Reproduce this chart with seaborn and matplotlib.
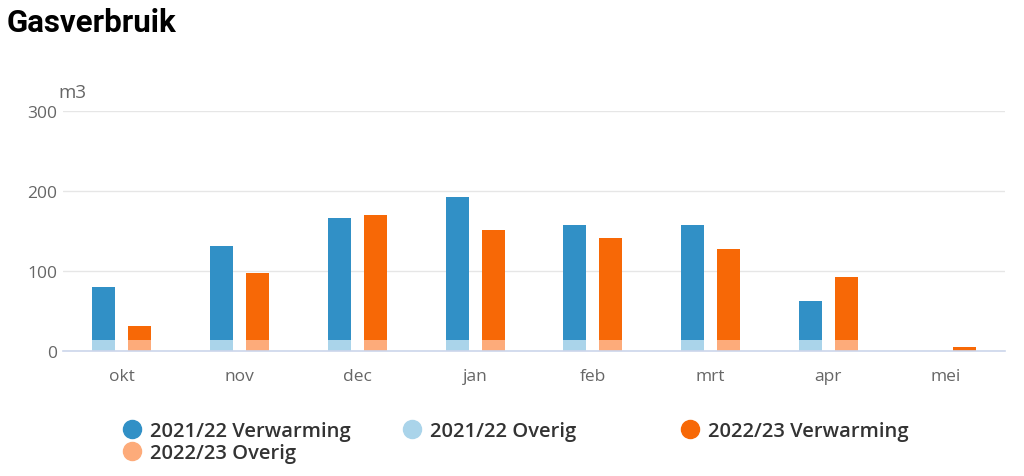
import matplotlib.pyplot as plt
import seaborn as sns
import pandas as pd
from matplotlib.lines import Line2D

# data (m3)
months = ['okt', 'nov', 'dec', 'jan', 'feb', 'mrt', 'apr', 'mei']
seasons = ['2021/22', '2022/23']
verwarming_2122 = [66, 117, 152, 178, 144, 143, 49, 0]
overig_2122 = [14, 14, 14, 14, 14, 14, 14, 0]
verwarming_2223 = [17, 84, 156, 137, 127, 114, 79, 5]
overig_2223 = [14, 14, 14, 14, 14, 14, 14, 0]

dark = ['#3190c6', '#f76806']
light = ['#aad4ea', '#fdab7a']

rows = []
for i, m in enumerate(months):
    rows.append((m, seasons[0], verwarming_2122[i], overig_2122[i]))
    rows.append((m, seasons[1], verwarming_2223[i], overig_2223[i]))
df = pd.DataFrame(rows, columns=['maand', 'seizoen', 'verwarming', 'overig'])
df['totaal'] = df['verwarming'] + df['overig']

sns.set_style('white')
plt.rcParams['font.family'] = ['Open Sans', 'DejaVu Sans']

fig = plt.figure(figsize=(10.24, 4.77), dpi=100)
ax = fig.add_axes([63 / 1024, 125 / 477, 942 / 1024, 240 / 477])

# stacked: total first, overig drawn over the bottom part
sns.barplot(data=df, x='maand', y='totaal', hue='seizoen', palette=dark,
            order=months, hue_order=seasons, width=0.61, gap=0.36,
            ax=ax, legend=False, errorbar=None, saturation=1, linewidth=0)
sns.barplot(data=df, x='maand', y='overig', hue='seizoen', palette=light,
            order=months, hue_order=seasons, width=0.61, gap=0.36,
            ax=ax, legend=False, errorbar=None, saturation=1, linewidth=0)

ax.set_ylim(0, 300)
ax.set_xlim(-0.5, len(months) - 0.5)
ax.set_yticks([0, 100, 200, 300])
ax.yaxis.grid(True, color='#e6e6e6', linewidth=1)
ax.set_axisbelow(True)
for s in ['top', 'right', 'left']:
    ax.spines[s].set_visible(False)
ax.spines['bottom'].set_color('#ccd6eb')
ax.spines['bottom'].set_linewidth(1.2)
ax.tick_params(axis='both', length=0, labelsize=12.5, colors='#666666')
ax.tick_params(axis='y', pad=4)
ax.tick_params(axis='x', pad=12)
ax.set_xlabel('')
ax.set_ylabel('')

fig.text(58 / 1024, 1 - 98 / 477, 'm3', fontsize=13.5, color='#666666', va='baseline')
fig.text(7 / 1024, 1 - 8 / 477, 'Gasverbruik', fontsize=22.5, fontweight='bold',
         family='Roboto', color='#000000', va='top')

# legend, three equal-width columns like the original
labels = ['2021/22 Verwarming', '2021/22 Overig', '2022/23 Verwarming', '2022/23 Overig']
colors = [dark[0], light[0], dark[1], light[1]]
columns = [[0, 3], [1], [2]]
xs = [112, 392, 670]
for col, x in zip(columns, xs):
    handles = [Line2D([], [], marker='o', linestyle='', markersize=13,
                      color=colors[k], label=labels[k]) for k in col]
    leg = fig.legend(handles=handles, loc='upper left',
                     bbox_to_anchor=(x / 1024, 1 - 414 / 477), frameon=False,
                     handletextpad=0.3, labelspacing=0.1, borderaxespad=0,
                     handlelength=1.2, prop={'size': 14.5, 'weight': 'semibold'})
    for t in leg.get_texts():
        t.set_color('#333333')

fig.savefig('out.png', dpi=100)
